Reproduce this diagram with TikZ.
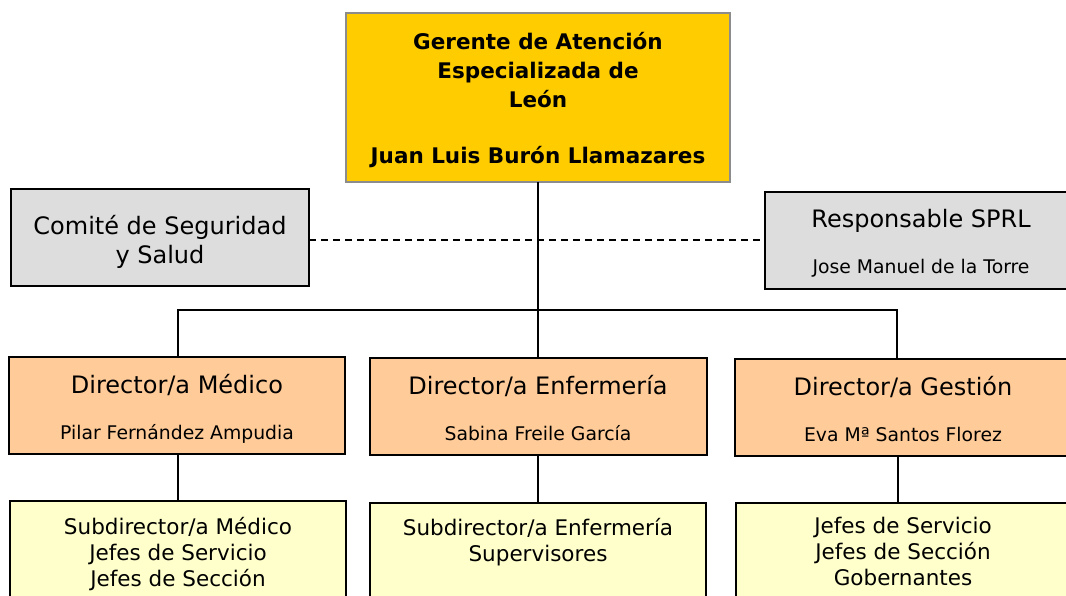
\documentclass[tikz,border=0pt]{standalone}
\usepackage{fontspec}
\setmainfont{DejaVu Sans}
\definecolor{gold}{HTML}{FFCC00}
\definecolor{peach}{HTML}{FFCC99}
\definecolor{paleyel}{HTML}{FFFFCC}
\definecolor{lgray}{HTML}{DDDDDD}
\definecolor{bgray}{HTML}{8C8C8C}
\begin{document}
\begin{tikzpicture}[x=1pt,y=-1pt,
  box/.style={draw=black,line width=2.2pt},
  big/.style={font=\fontsize{24}{26}\selectfont},
  bigsub/.style={font=\fontsize{21.5}{26}\selectfont},
  small/.style={font=\fontsize{18.8}{21}\selectfont},
  conn/.style={line width=2.2pt,draw=black},
  txt/.style={inner sep=0pt,anchor=base,align=center}]
\useasboundingbox (0,0) rectangle (1066,595);
\begin{scope}
\clip (0,0) rectangle (1066,595);
% top box
\filldraw[fill=gold,draw=bgray,line width=2.2pt] (346,13) rectangle (730,182);
\node[txt,font=\fontsize{21.5}{29}\selectfont\bfseries] (gtitle) at (538,107) {Gerente de Atención\\Especializada de\\León};
\node[txt,font=\fontsize{21.5}{29}\selectfont\bfseries] (gname) at (538,163) {Juan Luis Burón Llamazares};
% side boxes
\filldraw[fill=lgray,box] (11,189) rectangle (309,286);
\node[txt,font=\fontsize{24}{29}\selectfont] (comite) at (160,263) {Comité de Seguridad\\y Salud};
\filldraw[fill=lgray,box] (765,192) rectangle (1090,289);
\node[txt,big] (sprl) at (921,227) {Responsable SPRL};
\node[txt,small] (sprln) at (921,273) {Jose Manuel de la Torre};
\coordinate (cR) at (309,240);
\coordinate (sL) at (765,240);
\draw[line width=1.6pt,dash pattern=on 7pt off 5pt] (cR) -- (sL);
% directors
\filldraw[fill=peach,box] (9,357) rectangle (345,454);
\node[txt,big] (dm) at (177,393) {Director/a Médico};
\node[txt,small] (dmn) at (177,439) {Pilar Fernández Ampudia};
\filldraw[fill=peach,box] (370,358) rectangle (707,455);
\node[txt,big] (de) at (538,394) {Director/a Enfermería};
\node[txt,small] (den) at (538,440) {Sabina Freile García};
\filldraw[fill=peach,box] (735,359) rectangle (1090,456);
\node[txt,big] (dg) at (903,395) {Director/a Gestión};
\node[txt,small] (dgn) at (903,441) {Eva Mª Santos Florez};
% subs
\filldraw[fill=paleyel,box] (10,501) rectangle (346,620);
\node[txt,bigsub] (sm) at (178,586) {Subdirector/a Médico\\Jefes de Servicio\\Jefes de Sección};
\filldraw[fill=paleyel,box] (370,503) rectangle (706,620);
\node[txt,bigsub] (se) at (538,561) {Subdirector/a Enfermería\\Supervisores};
\filldraw[fill=paleyel,box] (736,503) rectangle (1090,620);
\node[txt,bigsub] (sg) at (903,585) {Jefes de Servicio\\Jefes de Sección\\Gobernantes};
% connectors
\draw[conn] (538,182) -- (538,358);
\draw[conn] (178,357) -- (178,310) -- (897,310) -- (897,359);
\draw[conn] (178,454) -- (178,501);
\draw[conn] (538,455) -- (538,503);
\draw[conn] (898,456) -- (898,503);
\end{scope}
\end{tikzpicture}
\end{document}
